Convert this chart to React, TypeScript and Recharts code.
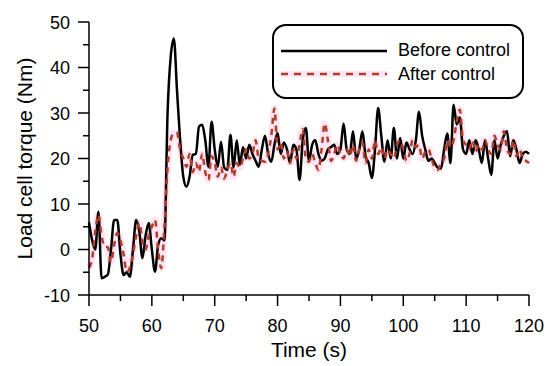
import React from 'react';
import { LineChart, Line, XAxis, YAxis, Legend } from 'recharts';

// time in seconds, sampled every 0.5 s
const time = [
  50, 50.5, 51, 51.5, 52, 52.5, 53, 53.5, 54, 54.5, 55, 55.5, 56, 56.5, 57, 57.5, 58, 58.5, 59, 59.5,
  60, 60.5, 61, 61.5, 62, 62.5, 63, 63.5, 64, 64.5, 65, 65.5, 66, 66.5, 67, 67.5, 68, 68.5, 69, 69.5,
  70, 70.5, 71, 71.5, 72, 72.5, 73, 73.5, 74, 74.5, 75, 75.5, 76, 76.5, 77, 77.5, 78, 78.5, 79, 79.5,
  80, 80.5, 81, 81.5, 82, 82.5, 83, 83.5, 84, 84.5, 85, 85.5, 86, 86.5, 87, 87.5, 88, 88.5, 89, 89.5,
  90, 90.5, 91, 91.5, 92, 92.5, 93, 93.5, 94, 94.5, 95, 95.5, 96, 96.5, 97, 97.5, 98, 98.5, 99, 99.5,
  100, 100.5, 101, 101.5, 102, 102.5, 103, 103.5, 104, 104.5, 105, 105.5, 106, 106.5, 107, 107.5, 108, 108.5, 109, 109.5,
  110, 110.5, 111, 111.5, 112, 112.5, 113, 113.5, 114, 114.5, 115, 115.5, 116, 116.5, 117, 117.5, 118, 118.5, 119, 119.5,
  120,
];

const beforeControl = [
  6, 2, 0, 8.3, -6.3, -6, -5.5, 0, 6.5, 6.5, -1, -5.6, -5, -6, 0, 6.5, 4, -1.9, 3, 5.8,
  0, -4.9, 1, 2.5, 2, 30, 42.4, 46.4, 35, 24, 16, 13.8, 16, 20.8, 21, 27, 27.4, 24, 18.2, 28.1,
  22, 18.2, 23.7, 18, 17.5, 25.2, 18, 24, 18.6, 22.5, 20, 23, 21, 19.5, 18.2, 22, 25, 21, 19.3, 23,
  25.6, 21, 23.5, 22, 19, 23, 22, 15.3, 24, 26.7, 19.5, 23, 24, 21, 19.5, 20, 22, 22.5, 23, 21,
  22, 27.7, 22, 21, 26, 20, 22, 26, 20.5, 19, 15.7, 22, 31.1, 25, 19.3, 24, 20, 26.7, 20, 24.5,
  20, 23.5, 22, 21, 24, 30.3, 25, 22, 19.5, 20, 19, 18, 17.8, 22, 25.5, 19, 31.8, 27.5, 29, 22,
  21, 24, 21, 24, 22, 19, 24, 20, 16.4, 24, 20, 23, 25, 26, 20.5, 24, 22, 19, 21, 21.5,
  21,
];

const afterControl = [
  -4, -2, 4, 7.6, 3, 0.6, 0.5, -2.8, 1, 3.6, 2, -1, -4.9, -4, -1, 3, 5.8, 2, 0, 3,
  5, 6.5, 0, -4.1, 5, 18, 24, 25.6, 25.6, 22, 20, 18.2, 21, 17, 19, 17.1, 21, 17, 15.3, 20.5,
  19, 16, 18, 15.6, 17.5, 19, 16, 19, 18, 20, 22, 20, 21, 24, 20, 19.5, 19.3, 21, 25, 31,
  22, 23.5, 20, 21.5, 19, 22, 20, 23, 26.5, 20, 19.3, 21, 19, 17.5, 22, 27.7, 24, 19.5, 21, 23,
  21, 20, 22, 20.5, 23, 19.5, 22, 23.5, 19, 22, 20, 24, 21, 22.5, 20, 22, 21, 20, 23, 24,
  22, 19.5, 21, 24, 22.5, 23, 20, 21.5, 22, 20, 18, 17.5, 19, 20, 24, 22.5, 24, 28, 30.7, 24,
  23, 22, 24, 21.5, 23, 22, 24, 22, 21, 25, 23, 22, 26, 22, 21, 24, 20.5, 22, 20, 19.5,
  19,
];

const xTicks = [50, 55, 60, 65, 70, 75, 80, 85, 90, 95, 100, 105, 110, 115, 120];
const yTicks = [-10, -5, 0, 5, 10, 15, 20, 25, 30, 35, 40, 45, 50];

const data = time.map((t, i) => ({ t, before: beforeControl[i], after: afterControl[i] }));

const FONT = '"Liberation Sans", Arial, sans-serif';
const RED = '#b03e26';
const PINK = '#ffe4f5';

// tickSize 11 + tickMargin 4 => the axis sits 15px from where the tick text is placed
const XTick = (props: any) => {
  const { x, y, payload } = props;
  const v = payload.value;
  const major = v % 10 === 0;
  const axisY = y - 15;
  return (
    <g>
      <line x1={x} x2={x} y1={axisY} y2={axisY + (major ? 11 : 6)} stroke="#000" strokeWidth={1.5} />
      {major && (
        <text x={x} y={axisY + 37} textAnchor="middle" fontSize={18} fill="#000" fontFamily={FONT}>
          {v}
        </text>
      )}
    </g>
  );
};

const YTick = (props: any) => {
  const { x, y, payload } = props;
  const v = payload.value;
  const major = v % 10 === 0;
  const axisX = x + 15;
  return (
    <g>
      <line x1={axisX - (major ? 11 : 6)} x2={axisX} y1={y} y2={y} stroke="#000" strokeWidth={1.5} />
      {major && (
        <text x={axisX - 19} y={y + 6.5} textAnchor="end" fontSize={18} fill="#000" fontFamily={FONT}>
          {v}
        </text>
      )}
    </g>
  );
};

const LegendBox = () => (
  <svg width={254} height={76} style={{ display: 'block' }}>
    <rect x={1} y={1} width={250} height={73} rx={13} fill="#fff" stroke="#000" strokeWidth={2} />
    <line x1={9} x2={115} y1={27} y2={27} stroke="#000" strokeWidth={2.5} />
    <text x={126} y={32} fontSize={18} fontFamily={FONT} fill="#000">Before control</text>
    <line x1={9} x2={115} y1={50} y2={50} stroke={PINK} strokeWidth={6} />
    <line x1={9} x2={115} y1={50} y2={50} stroke={RED} strokeWidth={2.5} strokeDasharray="7 6" />
    <text x={126} y={56} fontSize={18} fontFamily={FONT} fill="#000">After control</text>
  </svg>
);

export default function App() {
  return (
    <div style={{ position: 'absolute', left: 0, top: 0, width: 550, height: 366, background: '#fff' }}>
      <LineChart width={550} height={366} data={data} margin={{ top: 22, right: 21, left: 0, bottom: 11 }}>
        <XAxis
          dataKey="t"
          type="number"
          domain={[50, 120]}
          ticks={xTicks}
          interval={0}
          height={60}
          tickSize={11}
          tickMargin={4}
          tickLine={false}
          tick={<XTick />}
          axisLine={{ stroke: '#000', strokeWidth: 1.5 }}
          label={{
            content: ({ viewBox }: any) => (
              <text
                x={viewBox.x + viewBox.width / 2}
                y={viewBox.y + 62}
                textAnchor="middle"
                fontSize={21}
                fontFamily={FONT}
                fill="#000"
              >
                Time (s)
              </text>
            ),
          }}
        />
        <YAxis
          type="number"
          domain={[-10, 50]}
          ticks={yTicks}
          interval={0}
          width={89}
          tickSize={11}
          tickMargin={4}
          tickLine={false}
          tick={<YTick />}
          axisLine={{ stroke: '#000', strokeWidth: 1.5 }}
          label={{
            content: ({ viewBox }: any) => {
              const cy = viewBox.y + viewBox.height / 2;
              return (
                <text
                  x={24}
                  y={cy}
                  transform={`rotate(-90, 24, ${cy})`}
                  textAnchor="middle"
                  dominantBaseline="central"
                  fontSize={21}
                  fontFamily={FONT}
                  fill="#000"
                >
                  Load cell torque (Nm)
                </text>
              );
            },
          }}
        />
        <Legend
          layout="horizontal"
          verticalAlign="middle"
          align="center"
          content={() => <LegendBox />}
          wrapperStyle={{ left: 272, top: 24, width: 254, height: 76 }}
        />
        {/* faint pink halo behind the dashed series */}
        <Line
          type="monotone"
          dataKey="after"
          stroke={PINK}
          strokeWidth={7}
          strokeLinejoin="round"
          dot={false}
          activeDot={false}
          legendType="none"
          isAnimationActive={false}
        />
        <Line
          type="monotone"
          dataKey="before"
          name="Before control"
          stroke="#000"
          strokeWidth={2.5}
          dot={false}
          isAnimationActive={false}
        />
        <Line
          type="monotone"
          dataKey="after"
          name="After control"
          stroke={RED}
          strokeWidth={2.5}
          strokeDasharray="6 5"
          dot={false}
          isAnimationActive={false}
        />
      </LineChart>
    </div>
  );
}
